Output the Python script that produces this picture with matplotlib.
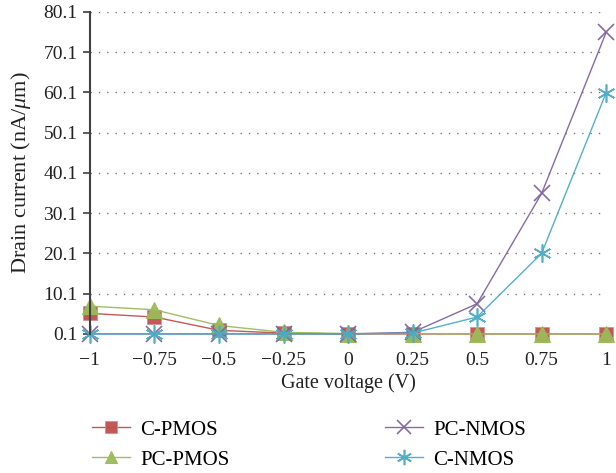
import numpy as np
import matplotlib
matplotlib.use("Agg")
import matplotlib.pyplot as plt

plt.rcParams['font.family'] = ['Liberation Serif', 'DejaVu Serif']
plt.rcParams['mathtext.fontset'] = 'custom'
plt.rcParams['mathtext.it'] = 'Liberation Serif:italic'
plt.rcParams['mathtext.rm'] = 'Liberation Serif'

gate_voltage = [-1, -0.75, -0.5, -0.25, 0, 0.25, 0.5, 0.75, 1]
x_labels = ['\u22121', '\u22120.75', '\u22120.5', '\u22120.25', '0', '0.25', '0.5', '0.75', '1']
y_ticks = [0.1, 10.1, 20.1, 30.1, 40.1, 50.1, 60.1, 70.1, 80.1]

c_pmos = [5.2, 4.3, 1.0, 0.3, 0.1, 0.1, 0.1, 0.1, 0.1]
pc_pmos = [7.0, 6.1, 2.2, 0.5, 0.2, 0.2, 0.1, 0.1, 0.1]
pc_nmos = [0.1, 0.1, 0.1, 0.1, 0.1, 0.5, 7.6, 35.0, 75.0]
c_nmos = [0.1, 0.1, 0.1, 0.1, 0.1, 0.3, 4.3, 20.1, 60.0]

fig = plt.figure(figsize=(6.16, 4.73), dpi=100)
ax = fig.add_axes([0.146, 0.294, 0.838, 0.681])

series = [
    ("C-PMOS", c_pmos, '#C0504D', 's', 10, '#D58E8C', 0.6),
    ("PC-PMOS", pc_pmos, '#9BBB59', '^', 11, '#9BBB59', 0.8),
    ("PC-NMOS", pc_nmos, '#8064A2', 'x', 12, '#8064A2', 1.2),
    ("C-NMOS", c_nmos, '#4BACC6', (6, 2, 0), 13, '#4BACC6', 1.2),
]
for name, vals, col, mk, ms, mec, mew in series:
    ax.plot(gate_voltage, vals, color=col, lw=1.0, marker=mk, ms=ms,
            mfc=col, mec=mec, mew=mew, label=name, clip_on=False, alpha=0.95)

ax.set_xlim(-1, 1)
ax.set_ylim(0.1, 80.1)
ax.set_xticks(gate_voltage)
ax.set_xticklabels(x_labels, fontsize=14)
ax.set_yticks(y_ticks)
ax.set_yticklabels([f"{v:.1f}" for v in y_ticks], fontsize=14)
ax.tick_params(axis='x', length=0, pad=13, colors='#222222')
ax.tick_params(axis='y', length=5, width=1.2, direction='out', colors='#404040',
               labelcolor='#222222', pad=4)

for s in ['top', 'right', 'bottom']:
    ax.spines[s].set_visible(False)
ax.spines['left'].set_color('#404040')
ax.spines['left'].set_linewidth(1.5)

ax.yaxis.grid(True, linestyle=(0, (1, 5)), color='#777777', lw=1.0)
ax.set_axisbelow(True)

ax.set_xlabel("Gate voltage (V)", fontsize=14.5, labelpad=3, color='#222222')
ax.set_ylabel(r"Drain current (nA/$\mu$m)", fontsize=16, labelpad=7, color='#222222')

leg = fig.legend(loc='upper left', bbox_to_anchor=(92 / 616, 1 - 420 / 473), ncol=2,
                 frameon=False, fontsize=15, handlelength=1.8, columnspacing=7.5,
                 labelspacing=0.5, handletextpad=0.5, borderpad=0, borderaxespad=0)
for h in leg.legend_handles:
    h.set_markersize(h.get_markersize() * 0.85)

fig.savefig("out.png", dpi=100)
